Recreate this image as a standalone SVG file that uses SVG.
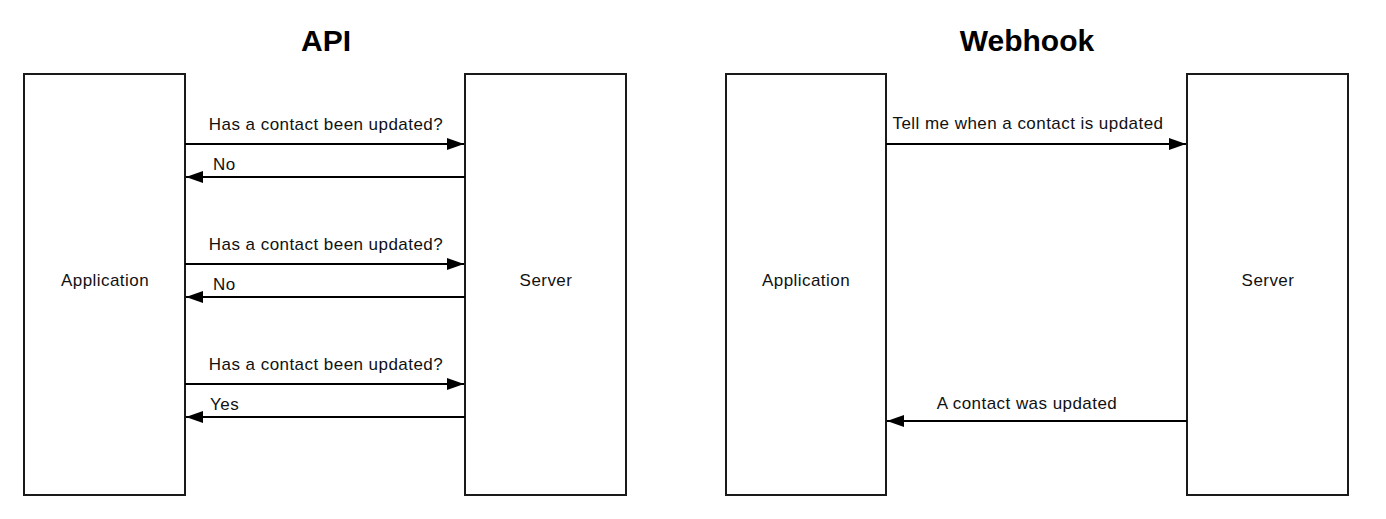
<svg xmlns="http://www.w3.org/2000/svg" width="1386" height="519" viewBox="0 0 1386 519">
<style>
.box{fill:#fff;stroke:#1a1a1a;stroke-width:2}
.lbl{font-family:"Liberation Sans",Arial,sans-serif;font-size:17px;letter-spacing:0.45px;fill:#111}
.title{font-family:"Liberation Sans",Arial,sans-serif;font-size:30px;font-weight:bold;fill:#000;text-anchor:middle}
.c{text-anchor:middle}
.conn line{stroke:#000;stroke-width:2;fill:none}
</style>
<defs>
<marker id="arr" markerWidth="17" markerHeight="12" refX="17" refY="6" orient="auto" markerUnits="userSpaceOnUse">
<path d="M0,0 L17,6 L0,12 Z" fill="#000"/>
</marker>
</defs>
<rect width="1386" height="519" fill="#fff"/>
<text class="title" x="326" y="51">API</text>
<text class="title" x="1027" y="51">Webhook</text>
<g id="api-application">
<rect class="box" x="24" y="74" width="161" height="421"/>
<text class="lbl c" x="105" y="286">Application</text>
</g>
<g id="api-server">
<rect class="box" x="465" y="74" width="161" height="421"/>
<text class="lbl c" x="546" y="286">Server</text>
</g>
<g id="webhook-application">
<rect class="box" x="726" y="74" width="160" height="421"/>
<text class="lbl c" x="806" y="286">Application</text>
</g>
<g id="webhook-server">
<rect class="box" x="1187" y="74" width="161" height="421"/>
<text class="lbl c" x="1268" y="286">Server</text>
</g>
<g id="connectors" class="conn">
<line x1="185" y1="144" x2="464" y2="144" marker-end="url(#arr)"/>
<line x1="465" y1="177" x2="186" y2="177" marker-end="url(#arr)"/>
<line x1="185" y1="264" x2="464" y2="264" marker-end="url(#arr)"/>
<line x1="465" y1="297" x2="186" y2="297" marker-end="url(#arr)"/>
<line x1="185" y1="384" x2="464" y2="384" marker-end="url(#arr)"/>
<line x1="465" y1="417" x2="186" y2="417" marker-end="url(#arr)"/>
<line x1="886" y1="144" x2="1186" y2="144" marker-end="url(#arr)"/>
<line x1="1187" y1="421" x2="887" y2="421" marker-end="url(#arr)"/>
</g>
<g id="connector-labels">
<text class="lbl c" x="326" y="130">Has a contact been updated?</text>
<text class="lbl" x="213" y="170">No</text>
<text class="lbl c" x="326" y="250">Has a contact been updated?</text>
<text class="lbl" x="213" y="290">No</text>
<text class="lbl c" x="326" y="370">Has a contact been updated?</text>
<text class="lbl" x="210" y="410">Yes</text>
<text class="lbl c" x="1028" y="129">Tell me when a contact is updated</text>
<text class="lbl c" x="1027" y="409">A contact was updated</text>
</g>
</svg>
